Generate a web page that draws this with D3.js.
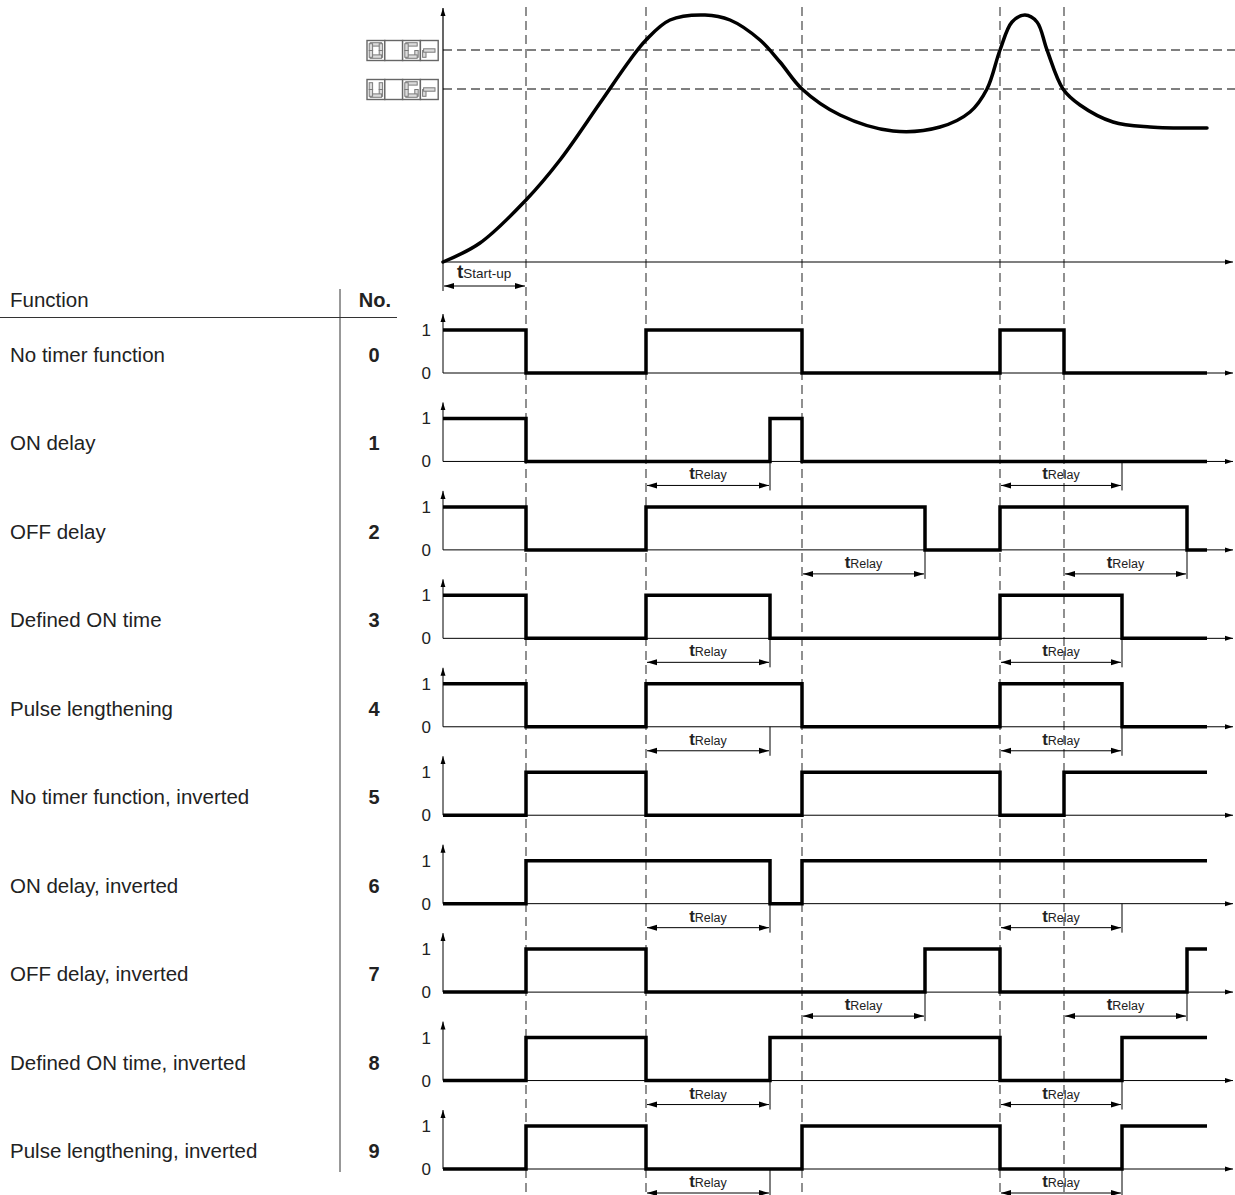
<!DOCTYPE html>
<html>
<head>
<meta charset="utf-8">
<script src="https://cdn.jsdelivr.net/npm/d3@7"></script>
<style>
  html, body { margin: 0; padding: 0; background: #fff; }
  svg { display: block; font-family: "Liberation Sans", Arial, Helvetica, sans-serif; }
</style>
</head>
<body>
<svg id="chart" width="1235" height="1195"></svg>
<script>
// ---- data (time in arbitrary units, value in % of range) ----
const curveT = [0, 3.7, 8.3, 11.7, 15.7, 18.7, 20.3, 22.7, 26.2, 28.7, 31.7, 33.7, 35.9, 39.7, 45, 49.7, 52.7, 54.4, 55.7, 56.9, 58.2, 59.4, 60.4, 62.0, 63.7, 67, 70.7, 76.4];
const curveV = [0, 7.6, 24.8, 40.8, 63.6, 80.8, 88.8, 96.8, 98.8, 96.8, 88.8, 80, 69.2, 58.8, 52.4, 54, 60, 69.2, 84.8, 96, 98.8, 96, 84.8, 69.2, 62.8, 56, 54, 53.6];
const thresholds = [84.8, 69.2];           // switch-on / switch-off points
const displayCells = [['O', '', 'G', 'r'], ['U', '', 'G', 'r']];
const eventTimes = [8.3, 20.3, 35.9, 55.7, 62.1];
const startupTime = 8.3;
const endTime = 76.4;

const functionNames = [
  'No timer function', 'ON delay', 'OFF delay', 'Defined ON time', 'Pulse lengthening',
  'No timer function, inverted', 'ON delay, inverted', 'OFF delay, inverted',
  'Defined ON time, inverted', 'Pulse lengthening, inverted'
];
const functionNos = ['0', '1', '2', '3', '4', '5', '6', '7', '8', '9'];
// each step: [time, level] from that time on
const signals = [
  [[0, 1], [8.3, 0], [20.3, 1], [35.9, 0], [55.7, 1], [62.1, 0]],
  [[0, 1], [8.3, 0], [32.7, 1], [35.9, 0]],
  [[0, 1], [8.3, 0], [20.3, 1], [48.2, 0], [55.7, 1], [74.4, 0]],
  [[0, 1], [8.3, 0], [20.3, 1], [32.7, 0], [55.7, 1], [67.9, 0]],
  [[0, 1], [8.3, 0], [20.3, 1], [35.9, 0], [55.7, 1], [67.9, 0]],
  [[0, 0], [8.3, 1], [20.3, 0], [35.9, 1], [55.7, 0], [62.1, 1]],
  [[0, 0], [8.3, 1], [32.7, 0], [35.9, 1]],
  [[0, 0], [8.3, 1], [20.3, 0], [48.2, 1], [55.7, 0], [74.4, 1]],
  [[0, 0], [8.3, 1], [20.3, 0], [32.7, 1], [55.7, 0], [67.9, 1]],
  [[0, 0], [8.3, 1], [20.3, 0], [35.9, 1], [55.7, 0], [67.9, 1]]
];
const relaySpans = [
  [],
  [[20.3, 32.7], [55.7, 67.9]],
  [[35.9, 48.2], [62.1, 74.4]],
  [[20.3, 32.7], [55.7, 67.9]],
  [[20.3, 32.7], [55.7, 67.9]],
  [],
  [[20.3, 32.7], [55.7, 67.9]],
  [[35.9, 48.2], [62.1, 74.4]],
  [[20.3, 32.7], [55.7, 67.9]],
  [[20.3, 32.7], [55.7, 67.9]]
];

// ---- scales ----
const svg = d3.select('#chart');
const x = d3.scaleLinear().domain([0, 79]).range([443, 1233]);
const y = d3.scaleLinear().domain([0, 100]).range([262, 12]);
const rowY = d3.scalePoint().domain(d3.range(10)).range([373, 1169]);
const lvl = d3.scaleLinear().domain([0, 1]).range([0, -43]);

const TEXT = '#222';
const DASH = '#555';

// arrow markers
const defs = svg.append('defs');
function marker(id, orient) {
  defs.append('marker').attr('id', id).attr('viewBox', '0 0 10 8')
    .attr('refX', 10).attr('refY', 4).attr('markerWidth', 10).attr('markerHeight', 8)
    .attr('markerUnits', 'userSpaceOnUse').attr('orient', orient)
    .append('path').attr('d', 'M0,1 L10,4 L0,7 Z').attr('fill', '#000');
}
marker('arr', 'auto');
marker('arr2', 'auto-start-reverse');
defs.append('marker').attr('id', 'arrS').attr('viewBox', '0 0 8 6')
  .attr('refX', 8).attr('refY', 3).attr('markerWidth', 8).attr('markerHeight', 6)
  .attr('markerUnits', 'userSpaceOnUse').attr('orient', 'auto')
  .append('path').attr('d', 'M0,0.5 L8,3 L0,5.5 Z').attr('fill', '#000');

// ---- dashed guide lines ----
const guides = svg.append('g');
guides.selectAll('line.v').data(eventTimes).enter().append('line')
  .attr('x1', d => x(d)).attr('x2', d => x(d)).attr('y1', 7).attr('y2', 1195)
  .attr('stroke', DASH).attr('stroke-width', 1.3).attr('stroke-dasharray', '9,5');
guides.selectAll('line.h').data(thresholds).enter().append('line')
  .attr('x1', x(0)).attr('x2', 1235).attr('y1', d => y(d)).attr('y2', d => y(d))
  .attr('stroke', DASH).attr('stroke-width', 1.3).attr('stroke-dasharray', '9,5');

// ---- top chart axes + curve ----
svg.append('line').attr('x1', x(0)).attr('x2', x(0)).attr('y1', y(0)).attr('y2', 8)
  .attr('stroke', '#000').attr('stroke-width', 1.2).attr('marker-end', 'url(#arrS)');
svg.append('line').attr('x1', x(0)).attr('x2', x(79)).attr('y1', y(0)).attr('y2', y(0))
  .attr('stroke', '#000').attr('stroke-width', 1.2).attr('marker-end', 'url(#arrS)');

const curveData = curveT.map((t, i) => [t, curveV[i]]);
svg.append('path').datum(curveData)
  .attr('d', d3.line().x(d => x(d[0])).y(d => y(d[1])).curve(d3.curveCatmullRom.alpha(0.5)))
  .attr('fill', 'none').attr('stroke', '#000').attr('stroke-width', 3.5).attr('stroke-linecap', 'round');

// start-up span
const suY = 286;
svg.append('line').attr('x1', x(0)).attr('x2', x(0)).attr('y1', y(0)).attr('y2', suY + 5)
  .attr('stroke', '#000').attr('stroke-width', 1);
svg.append('line').attr('x1', x(0) + 1).attr('x2', x(startupTime) - 1).attr('y1', suY).attr('y2', suY)
  .attr('stroke', '#000').attr('stroke-width', 1)
  .attr('marker-start', 'url(#arr2)').attr('marker-end', 'url(#arr)');
const su = svg.append('text').attr('x', x(0) + 14).attr('y', suY - 8).attr('fill', TEXT);
su.append('tspan').attr('font-weight', 'bold').attr('font-size', 19).text('t');
su.append('tspan').attr('font-size', 13.5).text('Start-up');

// ---- seven-segment displays ----
const SEG = {
  O: 'abcdef', U: 'bcdef', G: 'acdef', r: 'eg', '': ''
};
const cw = 17.8, ch = 20;
function segRect(s) {
  const m = 2.2, t = 3.4, w = cw - 2 * m, h = (ch - 2 * m) / 2;
  switch (s) {
    case 'a': return [m + 1, m, w - 2, t];
    case 'g': return [m + 1, m + h - t / 2, w - 2, t];
    case 'd': return [m + 1, ch - m - t, w - 2, t];
    case 'f': return [m, m + 1, t, h - 1];
    case 'e': return [m, m + h, t, h - 1];
    case 'b': return [cw - m - t, m + 1, t, h - 1];
    case 'c': return [cw - m - t, m + h, t, h - 1];
  }
}
displayCells.forEach((cells, i) => {
  const g = svg.append('g').attr('transform', `translate(367,${y(thresholds[i]) - 9.5})`);
  cells.forEach((c, j) => {
    const cg = g.append('g').attr('transform', `translate(${j * cw},0)`);
    cg.append('rect').attr('width', cw).attr('height', ch)
      .attr('fill', '#fff').attr('stroke', '#666').attr('stroke-width', 1.4);
    cg.selectAll('rect.seg').data(SEG[c].split('')).enter().append('rect')
      .attr('x', s => segRect(s)[0]).attr('y', s => segRect(s)[1])
      .attr('width', s => segRect(s)[2]).attr('height', s => segRect(s)[3])
      .attr('fill', '#dcdcdc').attr('stroke', '#7a7a7a').attr('stroke-width', 1);
  });
});

// ---- table header ----
svg.append('text').attr('x', 10).attr('y', 307).attr('font-size', 20.5).attr('fill', TEXT).text('Function');
svg.append('text').attr('x', 391).attr('y', 307).attr('text-anchor', 'end').attr('font-size', 20)
  .attr('font-weight', 'bold').attr('fill', TEXT).text('No.');
svg.append('line').attr('x1', 0).attr('x2', 397).attr('y1', 317.5).attr('y2', 317.5)
  .attr('stroke', '#333').attr('stroke-width', 1);
svg.append('line').attr('x1', 340).attr('x2', 340).attr('y1', 289).attr('y2', 1172)
  .attr('stroke', '#333').attr('stroke-width', 1);

// ---- function rows ----
const stepLine = d3.line().x(d => x(d[0])).y(d => lvl(d[1])).curve(d3.curveStepAfter);

signals.forEach((steps, i) => {
  const g = svg.append('g').attr('transform', `translate(0,${rowY(i)})`);
  g.append('text').attr('x', 10).attr('y', -11).attr('font-size', 20.5).attr('fill', TEXT).text(functionNames[i]);
  g.append('text').attr('x', 374).attr('y', -11).attr('text-anchor', 'middle').attr('font-size', 20)
    .attr('font-weight', 'bold').attr('fill', TEXT).text(functionNos[i]);

  // level axis + tick labels
  g.append('text').attr('x', 431).attr('y', lvl(1) + 6).attr('text-anchor', 'end')
    .attr('font-size', 17).attr('fill', TEXT).text('1');
  g.append('text').attr('x', 431).attr('y', lvl(0) + 6).attr('text-anchor', 'end')
    .attr('font-size', 17).attr('fill', TEXT).text('0');
  g.append('line').attr('x1', x(0)).attr('x2', x(0)).attr('y1', 0).attr('y2', -59)
    .attr('stroke', '#000').attr('stroke-width', 1).attr('marker-end', 'url(#arrS)');
  g.append('line').attr('x1', x(0)).attr('x2', x(79)).attr('y1', 0).attr('y2', 0)
    .attr('stroke', '#000').attr('stroke-width', 1).attr('marker-end', 'url(#arrS)');

  const pts = steps.concat([[endTime, steps[steps.length - 1][1]]]);
  g.append('path').datum(pts).attr('d', stepLine)
    .attr('fill', 'none').attr('stroke', '#000').attr('stroke-width', 3.5)
    .attr('stroke-linejoin', 'miter').attr('stroke-linecap', 'butt');

  // t_Relay spans
  relaySpans[i].forEach(span => {
    const ay = 24;
    g.append('line').attr('x1', x(span[1])).attr('x2', x(span[1])).attr('y1', 0).attr('y2', ay + 5)
      .attr('stroke', '#000').attr('stroke-width', 1);
    g.append('line').attr('x1', x(span[0]) + 1).attr('x2', x(span[1]) - 1).attr('y1', ay).attr('y2', ay)
      .attr('stroke', '#000').attr('stroke-width', 1)
      .attr('marker-start', 'url(#arr2)').attr('marker-end', 'url(#arr)');
    const t = g.append('text').attr('x', (x(span[0]) + x(span[1])) / 2).attr('y', ay - 6)
      .attr('text-anchor', 'middle').attr('fill', TEXT);
    t.append('tspan').attr('font-weight', 'bold').attr('font-size', 17).text('t');
    t.append('tspan').attr('font-size', 12.5).text('Relay');
  });
});
</script>
</body>
</html>
